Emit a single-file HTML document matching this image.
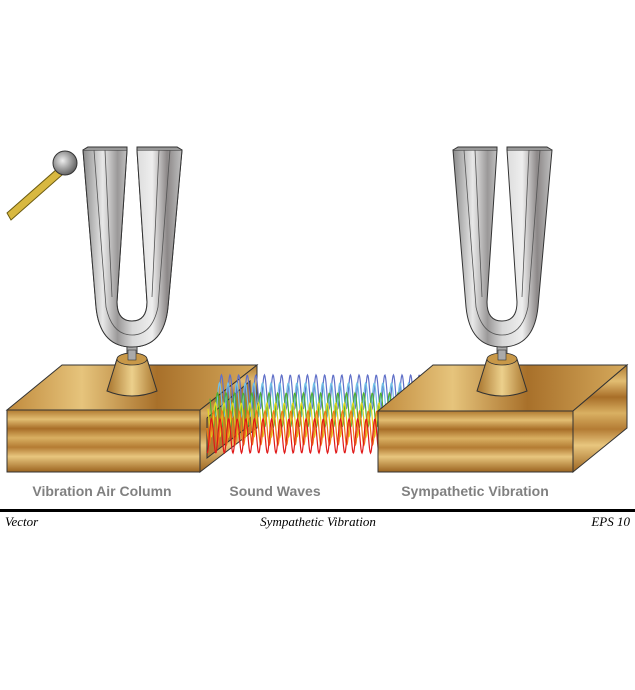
<!DOCTYPE html>
<html><head><meta charset="utf-8"><style>
html,body{margin:0;padding:0;background:#fff;width:635px;height:690px;overflow:hidden}
svg{display:block}
</style></head><body>
<svg width="635" height="690" viewBox="0 0 635 690" xmlns="http://www.w3.org/2000/svg">
<defs>
<linearGradient id="wood" x1="0" y1="0" x2="0" y2="1">
<stop offset="0" stop-color="#b07a30"/><stop offset="0.15" stop-color="#e2bd72"/><stop offset="0.3" stop-color="#a86e28"/><stop offset="0.45" stop-color="#d9b062"/><stop offset="0.6" stop-color="#b47c34"/><stop offset="0.75" stop-color="#e8c67e"/><stop offset="1" stop-color="#9c6420"/>
</linearGradient>
<linearGradient id="woodh" x1="0" y1="0" x2="1" y2="0">
<stop offset="0" stop-color="#c08a3c"/><stop offset="0.3" stop-color="#e6c47c"/><stop offset="0.6" stop-color="#a8702a"/><stop offset="1" stop-color="#d6aa5c"/>
</linearGradient>
<linearGradient id="metal" x1="0" y1="0" x2="1" y2="0">
<stop offset="0" stop-color="#8a8a8a"/><stop offset="0.2" stop-color="#e8e8e8"/><stop offset="0.35" stop-color="#9a9898"/><stop offset="0.5" stop-color="#d8d8d8"/><stop offset="0.7" stop-color="#eeeeee"/><stop offset="0.85" stop-color="#8c8888"/><stop offset="1" stop-color="#c0c0c0"/>
</linearGradient>
<linearGradient id="cone" x1="0" y1="0" x2="1" y2="0">
<stop offset="0" stop-color="#a8742c"/><stop offset="0.5" stop-color="#ecd08c"/><stop offset="1" stop-color="#a8742c"/>
</linearGradient>
<radialGradient id="ball" cx="0.4" cy="0.4" r="0.6"><stop offset="0" stop-color="#eee"/><stop offset="1" stop-color="#666"/></radialGradient>
<g id="fork">
<rect x="-5" y="196" width="10" height="20" fill="#aaa" stroke="#333" stroke-width="0.8"/>
<path d="M-15,212 L15,212 L25,244 Q0,254 -25,244 Z" fill="url(#cone)" stroke="#333" stroke-width="1"/>
<ellipse cx="0" cy="212" rx="15" ry="6" fill="#c89848" stroke="#333" stroke-width="0.8"/>
<rect x="-4" y="203" width="8" height="10" fill="#aaa" stroke="#333" stroke-width="0.6"/>
<path d="M-49,3 L-5,3 L-15,155 Q-15,174 0,174 Q15,174 15,155 L5,3 L50,3 L36,160 Q32,200 0,200 Q-32,200 -36,160 Z" fill="url(#metal)" stroke="#333" stroke-width="1"/>
<path d="M-49,3 L-44,0 L-5,0 L-5,3 M5,3 L5,0 L45,0 L50,3" fill="#999" stroke="#333" stroke-width="1"/>
<path d="M-38,3 L-26,160 Q-20,188 0,188 M-27,3 L-20,150 M38,3 L26,160 Q20,188 0,188 M27,3 L20,150" fill="none" stroke="#555" stroke-width="0.8"/>
</g>
</defs>

<path d="M7,213 L57,169 L62,175 L11,220 Z" fill="#d8b840" stroke="#6a5a10" stroke-width="1"/>
<circle cx="65" cy="163" r="12" fill="url(#ball)" stroke="#333" stroke-width="1"/>

<use href="#fork" transform="translate(132,147)"/>

<polygon points="7,410 62,365 257,365 200,410" fill="url(#woodh)" stroke="#333"/>
<use href="#fork" transform="translate(132,147)" />
<polygon points="200,410 257,365 257,428 200,472" fill="url(#wood)" stroke="#333"/>
<polygon points="207,418 250,381 250,425 207,458" fill="#b07a30" stroke="#333"/>
<rect x="7" y="410" width="193" height="62" fill="url(#wood)" stroke="#333"/>

<g id="waves" fill="none" stroke-width="1.2"></g>

<polygon points="378,411 433,365 627,365 573,411" fill="url(#woodh)" stroke="#333"/>
<polygon points="573,411 627,365 627,428 573,472" fill="url(#wood)" stroke="#333"/>
<rect x="378" y="411" width="195" height="61" fill="url(#wood)" stroke="#333"/>
<use href="#fork" transform="translate(502,147)"/>

<g font-family="Liberation Sans, sans-serif" font-weight="bold" font-size="14" fill="#808080" text-anchor="middle">
<text x="102" y="496">Vibration Air Column</text>
<text x="275" y="496">Sound Waves</text>
<text x="475" y="496">Sympathetic Vibration</text>
</g>
<rect x="0" y="509" width="635" height="3" fill="#000"/>
<g font-family="Liberation Serif, serif" font-style="italic" font-size="13" fill="#000">
<text x="5" y="526">Vector</text>
<text x="318" y="526" text-anchor="middle">Sympathetic Vibration</text>
<text x="630" y="526" text-anchor="end">EPS 10</text>
</g>
</svg>
<script>
var g=document.getElementById('waves');
var cols=[['#6070c8',392,220],['#70c0e8',400,214],['#50b030',410,210],['#e0d820',420,208],['#f07818',428,207],['#e01818',436,207]];
cols.forEach(function(c,i){var d='';for(var x=c[2];x<=430;x+=0.5){var y=c[1]+17*Math.sin((x+i*2)*2*Math.PI/8.6);d+=(d?'L':'M')+x.toFixed(1)+','+y.toFixed(1);}
var p=document.createElementNS('http://www.w3.org/2000/svg','path');p.setAttribute('d',d);p.setAttribute('stroke',c[0]);g.appendChild(p);});
</script>
</body></html>
